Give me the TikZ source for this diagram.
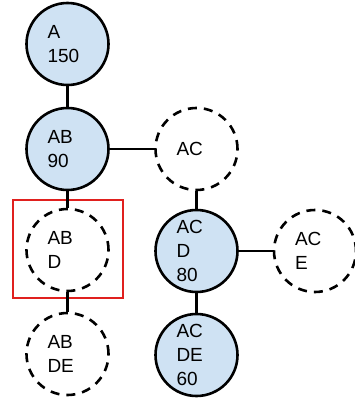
\documentclass[tikz,border=0pt]{standalone}
\usepackage{fontspec}
\setmainfont{Liberation Sans}
\begin{document}
\begin{tikzpicture}[x=1pt,y=1pt,
  state/.style={circle, draw=black, line width=2.6pt, minimum size=82pt, inner sep=0pt,
    text width=40pt, align=left, font=\fontsize{19}{24}\selectfont},
  kept/.style={state, fill=nodeblue},
  pruned/.style={state, dash pattern=on 9pt off 7pt},
  link/.style={draw=black, line width=2.2pt},
  redbox/.style={draw=boxred, line width=2pt}]
\definecolor{nodeblue}{HTML}{CFE2F3}
\definecolor{boxred}{HTML}{E0201E}
\useasboundingbox (0,0) rectangle (354,-398);
\node[kept] (A) at (67.5,-44) {A\\150};
\node[kept] (AB) at (67.5,-149) {AB\\90};
\node[pruned] (AC) at (196.5,-149) {AC};
\node[pruned] (ABD) at (67.5,-250) {AB\\D};
\node[kept] (ACD) at (196.5,-251) {AC\\D\\80};
\node[pruned] (ACE) at (315,-251) {AC\\E};
\node[pruned] (ABDE) at (67.5,-354) {AB\\DE};
\node[kept] (ACDE) at (196.5,-355) {AC\\DE\\60};
\draw[redbox] (13,-200) rectangle (123,-298);
\draw[link] (A) -- (AB);
\draw[link] (AB) -- (AC);
\draw[link] (AB) -- (ABD);
\draw[link] (ABD) -- (ABDE);
\draw[link] (AC) -- (ACD);
\draw[link] (ACD) -- (ACE);
\draw[link] (ACD) -- (ACDE);
\end{tikzpicture}
\end{document}
